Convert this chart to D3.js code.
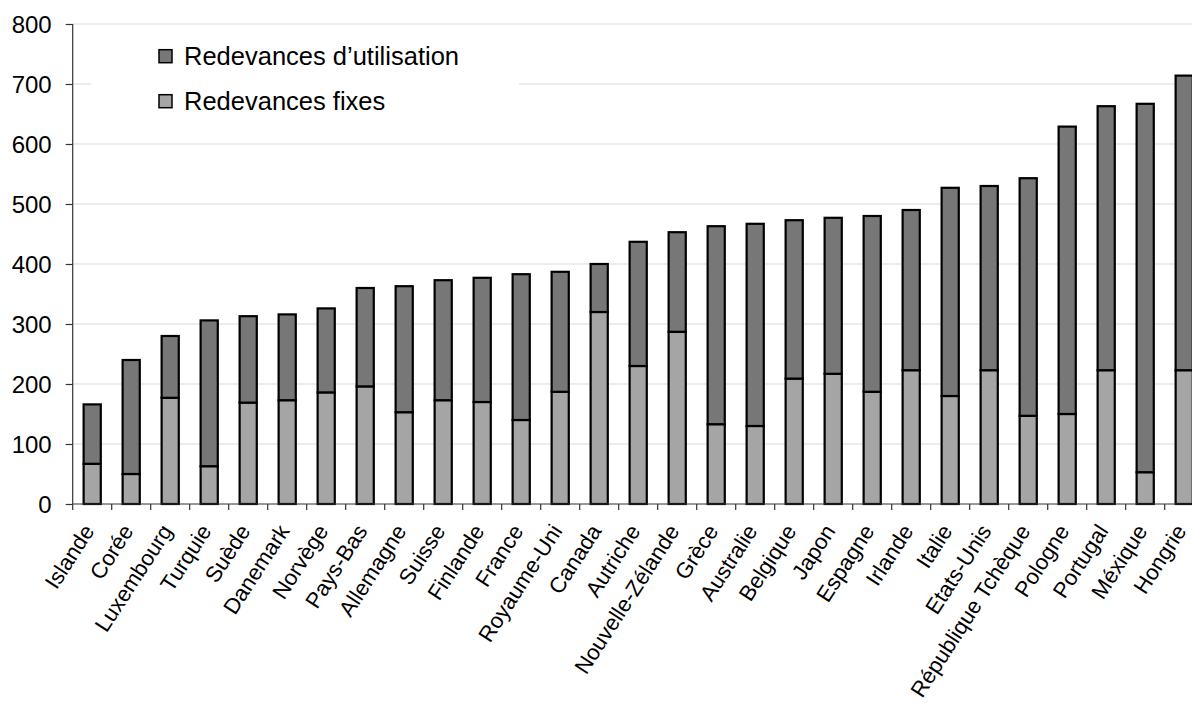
<!DOCTYPE html>
<html>
<head>
<meta charset="utf-8">
<script src="https://cdn.jsdelivr.net/npm/d3@7"></script>
<style>
  html, body { margin: 0; padding: 0; background: #fff; }
  svg { display: block; font-family: "Liberation Sans", Arial, sans-serif; }
</style>
</head>
<body>
<svg id="chart" width="1192" height="703"></svg>
<script>
const categories = ["Islande","Corée","Luxembourg","Turquie","Suède","Danemark","Norvège","Pays-Bas","Allemagne","Suisse","Finlande","France","Royaume-Uni","Canada","Autriche","Nouvelle-Zélande","Grèce","Australie","Belgique","Japon","Espagne","Irlande","Italie","Etats-Unis","République Tchèque","Pologne","Portugal","Méxique","Hongrie"];
const fixes = [67,50,177,63,169,173,186,196,153,173,170,140,187,320,230,287,133,130,209,217,187,223,180,223,147,150,223,53,223];
const utilisation = [99,190,103,243,144,143,140,164,210,200,207,243,200,80,207,166,330,337,264,260,293,267,347,307,396,479,440,614,491];
const yTicks = [0,100,200,300,400,500,600,700,800];
const seriesNames = ["Redevances fixes","Redevances d’utilisation"];
const legendNames = ["Redevances d’utilisation","Redevances fixes"];

const colors = {"Redevances fixes":"#a5a5a5","Redevances d’utilisation":"#777777"};

const svg = d3.select("#chart");
const W = 1192;
const x0 = 72.7, step = 39;
const x = d3.scaleBand().domain(categories).range([x0, x0 + step*categories.length]).paddingInner(0.56).paddingOuter(0.28);
const y = d3.scaleLinear().domain([0,800]).range([504,24]);

const rows = categories.map((c,i)=>({cat:c, "Redevances fixes":fixes[i], "Redevances d’utilisation":utilisation[i]}));
const stack = d3.stack().keys(seriesNames)(rows);

// gridlines
svg.append("g").selectAll("line").data(yTicks.filter(d=>d>0)).join("line")
  .attr("x1", x0).attr("x2", W).attr("y1", d=>y(d)).attr("y2", d=>y(d))
  .attr("stroke", "#d9d9d9").attr("stroke-width", 1.2);

// bars
svg.append("g").selectAll("g").data(stack).join("g")
  .attr("fill", d=>colors[d.key])
  .selectAll("rect").data(d=>d).join("rect")
  .attr("x", d=>x(d.data.cat)).attr("width", x.bandwidth())
  .attr("y", d=>y(d[1])).attr("height", d=>y(d[0])-y(d[1]))
  .attr("stroke", "#000").attr("stroke-width", 2.2);

// legend background
const lg = svg.append("g");
lg.append("rect").attr("x", 91).attr("y", 30).attr("width", 428).attr("height", 95).attr("fill", "#fff");
legendNames.forEach((n,i)=>{
  const yy = 49.7 + i*45;
  lg.append("rect").attr("x",159).attr("y",yy).attr("width",13).attr("height",13)
    .attr("fill", colors[n]).attr("stroke","#000").attr("stroke-width",1.5);
  lg.append("text").attr("x",184).attr("y", yy+15).attr("font-size", 25.5).attr("fill","#000").text(n);
});

// y axis
const yAxis = svg.append("g").attr("transform", `translate(${x0},0)`)
  .call(d3.axisLeft(y).tickValues(yTicks).tickSize(7).tickPadding(14).tickFormat(d3.format("d")));
yAxis.select(".domain").attr("stroke","#333").attr("stroke-width",1.2).attr("d", `M-0,${y(800)}V${y(0)}`);
yAxis.selectAll(".tick line").attr("stroke","#333").attr("stroke-width",1.2);
yAxis.selectAll(".tick text").attr("font-size", 24).attr("fill","#000").attr("dy","0.36em").attr("font-family","Liberation Sans, Arial, sans-serif");

// x axis
const xg = svg.append("g");
xg.append("line").attr("x1", x0).attr("x2", W).attr("y1", y(0)).attr("y2", y(0)).attr("stroke","#333").attr("stroke-width",1.2);
const bounds = categories.map((c,i)=> x(c) - x.step()*x.paddingInner()/2);
xg.selectAll("line.t").data(bounds).join("line").attr("class","t")
  .attr("x1", d=>d).attr("x2", d=>d).attr("y1", y(0)).attr("y2", y(0)+6)
  .attr("stroke","#333").attr("stroke-width",1.2);
xg.selectAll("text").data(categories).join("text")
  .attr("transform", d=>`translate(${x(d)+x.bandwidth()/2+3},${y(0)+27}) rotate(-57)`)
  .attr("text-anchor","end").attr("font-size", 22).attr("fill","#000").text(d=>d);
</script>
</body>
</html>
